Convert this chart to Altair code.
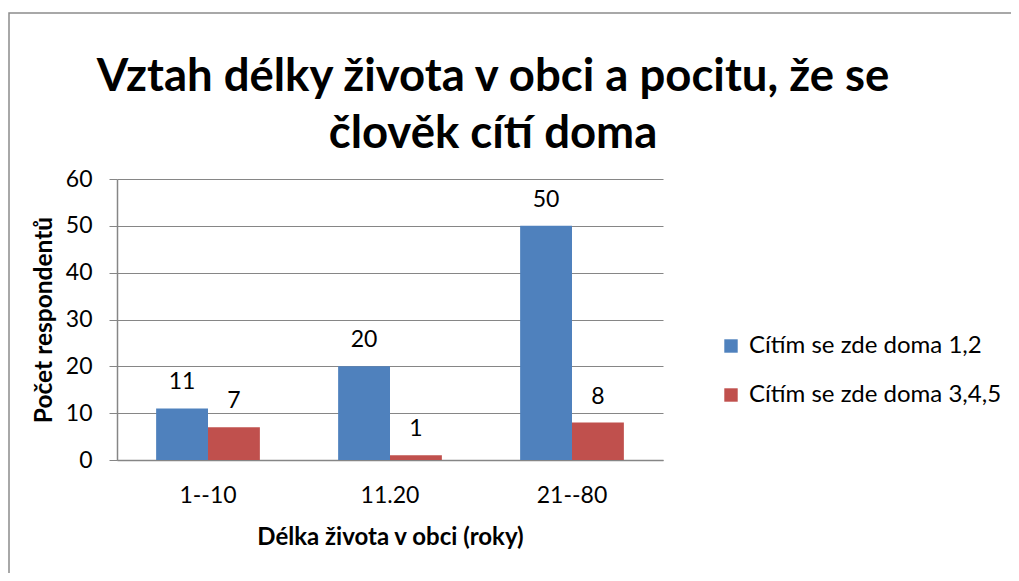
import altair as alt
import pandas as pd

categories = ["1--10", "11.20", "21--80"]
series_names = ["Cítím se zde doma 1,2", "Cítím se zde doma 3,4,5"]
series1 = [11, 20, 50]
series2 = [7, 1, 8]
colors = ["#4F81BD", "#C0504D"]
title_lines = ["Vztah délky života v obci a pocitu, že se", "člověk cítí doma"]

rows = []
for c, a, b in zip(categories, series1, series2):
    rows.append({"cat": c, "series": series_names[0], "value": a})
    rows.append({"cat": c, "series": series_names[1], "value": b})
df = pd.DataFrame(rows)

FONT = "Lato"
GRID = "#868686"

x_enc = alt.X("cat:N", sort=categories,
              scale=alt.Scale(paddingInner=0.43, paddingOuter=0.215),
              axis=alt.Axis(title="Délka života v obci (roky)", labelAngle=0,
                            ticks=False, labelPadding=24, labelFontSize=23,
                            labelFont=FONT, labelColor="#000", titleFont=FONT,
                            titleFontSize=24, titleFontWeight="bold",
                            titleColor="#000", titlePadding=18,
                            domainColor=GRID, domainWidth=1.5))
xo = alt.XOffset("series:N", sort=series_names, scale=alt.Scale(paddingInner=0, paddingOuter=0))
y_enc = alt.Y("value:Q", scale=alt.Scale(domain=[0, 60], nice=False),
              axis=alt.Axis(title="Počet respondentů", values=[0, 10, 20, 30, 40, 50, 60],
                            tickSize=8, tickColor=GRID, labelPadding=17,
                            labelFontSize=23, labelFont=FONT, labelColor="#000",
                            titleFont=FONT, titleFontSize=24.5, titleFontWeight="bold",
                            titleColor="#000", titlePadding=9,
                            gridColor=GRID, gridWidth=1, domainColor=GRID, domainWidth=1.5))
color_enc = alt.Color("series:N", sort=series_names,
                      scale=alt.Scale(domain=series_names, range=colors),
                      legend=alt.Legend(title=None, orient="none", legendX=602, legendY=155,
                                        symbolType="square", symbolSize=180,
                                        symbolStrokeWidth=0, labelFontSize=24,
                                        labelFont=FONT, labelColor="#000", labelLimit=0,
                                        rowPadding=25, labelOffset=6))

base = alt.Chart(df)
bars = base.mark_bar().encode(x=x_enc, xOffset=xo, y=y_enc, color=color_enc)
labels = base.mark_text(baseline="alphabetic", dy=-19, fontSize=23, font=FONT, color="#000").encode(
    x=alt.X("cat:N", sort=categories), xOffset=xo, y="value:Q", text="value:Q")

border = alt.Chart(alt.Data(values=[{"a": 1}])).mark_rect(
    fill=None, stroke="#8c8c8c", strokeWidth=1.5).encode(
    x=alt.value(-108), y=alt.value(-166), x2=alt.value(1000), y2=alt.value(500))

title = alt.Chart(alt.Data(values=[{"a": 1}])).mark_text(
    font=FONT, fontSize=45.5, fontWeight="bold", color="#000", align="center",
    baseline="alphabetic", lineHeight=57).encode(
    x=alt.value(376), y=alt.value(-88), text=alt.value(title_lines))

chart = alt.layer(border, title, bars, labels).properties(
    width=546, height=281,
    autosize=alt.AutoSizeParams(type="none"),
    padding={"left": 109, "top": 171, "right": 348, "bottom": 113},
).configure_view(stroke=None).configure_axis(grid=True).configure_axisX(grid=False)

chart.save("out.html", embed_options={"renderer": "svg", "actions": False})
